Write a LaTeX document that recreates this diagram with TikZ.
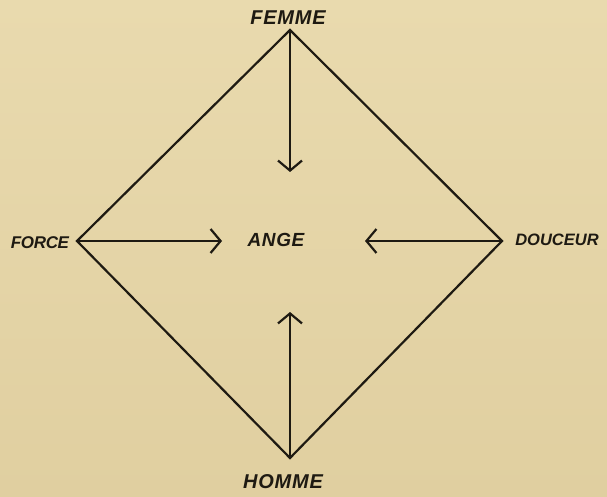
\documentclass[tikz,border=0pt]{standalone}
\usepackage{fontspec}
\setmainfont{Liberation Sans}
\usetikzlibrary{arrows.meta}
\definecolor{paper}{RGB}{224,207,160}
\definecolor{paperlight}{RGB}{233,218,174}
\definecolor{ink}{RGB}{30,26,18}
\tikzset{
  edge/.style={draw=ink, line width=2.2pt, line join=miter},
  pointer/.style={draw=ink, line width=2.2pt, -{Straight Barb[length=10pt,width=24pt,line width=2.2pt]}},
  lbl/.style={text=ink, font=\fontsize{20}{20}\selectfont\bfseries\itshape\addfontfeature{LetterSpace=4}, inner sep=0pt},
  vert/.style={coordinate}
}
\begin{document}
\begin{tikzpicture}[x=1pt,y=-1pt]
\useasboundingbox (0,0) rectangle (607,497);
\shade[top color=paperlight, bottom color=paper] (0,0) rectangle (607,497);
\coordinate (T) at (290,30);
\coordinate (L) at (77,241);
\coordinate (R) at (502,241);
\coordinate (B) at (290,458);
\draw[edge] (T) -- (R) -- (B) -- (L) -- cycle;
\coordinate (tT) at (290,172);
\coordinate (tL) at (222,241);
\coordinate (tR) at (365,241);
\coordinate (tB) at (290,312);
\draw[pointer] (T) -- (tT);
\draw[pointer] (L) -- (tL);
\draw[pointer] (R) -- (tR);
\draw[pointer] (B) -- (tB);
\node[lbl] (femme) at (288,18) {FEMME};
\node[lbl, font=\fontsize{17}{17}\selectfont\bfseries\itshape\addfontfeature{LetterSpace=-2}] (force) at (40,243) {FORCE};
\node[lbl, font=\fontsize{19}{19}\selectfont\bfseries\itshape\addfontfeature{LetterSpace=3}] (ange) at (276,240) {ANGE};
\node[lbl, font=\fontsize{16.5}{16.5}\selectfont\bfseries\itshape\addfontfeature{LetterSpace=0}] (douceur) at (557,240) {DOUCEUR};
\node[lbl] (homme) at (283,482) {HOMME};
\end{tikzpicture}
\end{document}
